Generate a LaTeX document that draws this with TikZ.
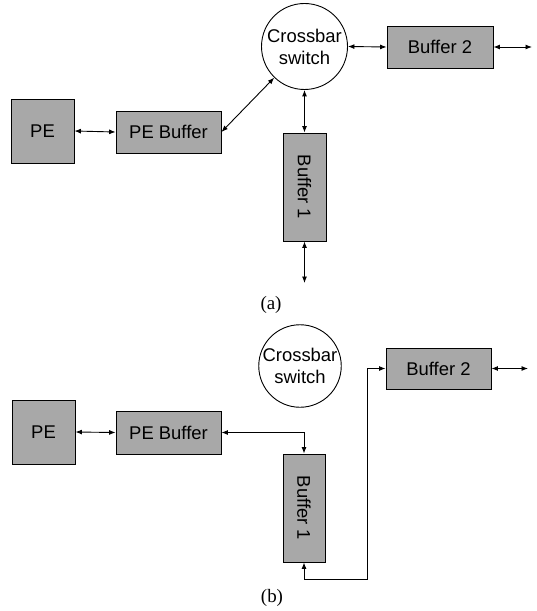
\documentclass[tikz,border=0pt]{standalone}
\usepackage{fontspec}
\setmainfont{Liberation Serif}
\setsansfont{Liberation Sans}
\usetikzlibrary{arrows.meta}
\definecolor{stip}{RGB}{168,168,168}
\begin{document}
\begin{tikzpicture}[x=1bp,y=-1bp,
  blk/.style={draw=black,line width=0.9bp,fill=stip,inner sep=0pt,
    font=\sffamily\fontsize{18.5}{22}\selectfont},
  xbar/.style={circle,draw=black,line width=0.9bp,fill=white,inner sep=0pt,
    minimum size=#1,align=center,font=\sffamily\fontsize{18.5}{22}\selectfont},
  link/.style={line width=0.9bp,{Latex[length=6.5bp,width=5bp]}-{Latex[length=6.5bp,width=5bp]}},
  sublabel/.style={font=\rmfamily\fontsize{19}{21}\selectfont,inner sep=0pt}]
\useasboundingbox (0,0) rectangle (537,611);
% ---------- (a) ----------
\node[blk,minimum width=63bp,minimum height=64bp] (PEa) at (42.5,131) {PE};
\node[blk,minimum width=105bp,minimum height=42bp] (PEBa) at (168.5,132) {PE Buffer};
\node[xbar=86bp] (CBa) at (304.5,46.5) {Crossbar\\switch};
\node[blk,minimum width=106bp,minimum height=42bp] (B2a) at (440,47) {Buffer 2};
\node[blk,minimum width=43bp,minimum height=108bp] (B1a) at (304.5,187) {};
\node[font=\sffamily\fontsize{18.5}{22}\selectfont,rotate=-90] (B1aT) at (B1a) {Buffer 1};
\coordinate (B2aEnd) at (532,47);
\coordinate (B1aEnd) at (304.5,283);
\draw[link] (PEa.east) -- (PEBa.west);
\draw[link] (PEBa.east) -- (CBa);
\draw[link] (CBa.south) -- (B1a.north);
\draw[link] (CBa.east) -- (B2a.west);
\draw[link] (B2a.east) -- (B2aEnd);
\draw[link] (B1a.south) -- (B1aEnd);
\node[sublabel] (la) at (271,305) {(a)};
% ---------- (b) ----------
\node[blk,minimum width=63bp,minimum height=64bp] (PEb) at (43.5,432) {PE};
\node[blk,minimum width=105bp,minimum height=43bp] (PEBb) at (168.5,432.5) {PE Buffer};
\node[xbar=82bp] (CBb) at (300,366) {Crossbar\\switch};
\node[blk,minimum width=105bp,minimum height=41bp] (B2b) at (438.5,368.5) {Buffer 2};
\node[blk,minimum width=42bp,minimum height=108bp] (B1b) at (304,508) {};
\node[font=\sffamily\fontsize{18.5}{22}\selectfont,rotate=-90] (B1bT) at (B1b) {Buffer 1};
\coordinate (turn) at (367,579);
\coordinate (B2bEnd) at (528,368.5);
\draw[link] (PEb.east) -- (PEBb.west);
\draw[link] (PEBb.east) -| (B1b.north);
\draw[link] (B1b.south) |- (turn) |- (B2b.west);
\draw[link] (B2b.east) -- (B2bEnd);
\node[sublabel] (lb) at (272,598) {(b)};
\end{tikzpicture}
\end{document}
